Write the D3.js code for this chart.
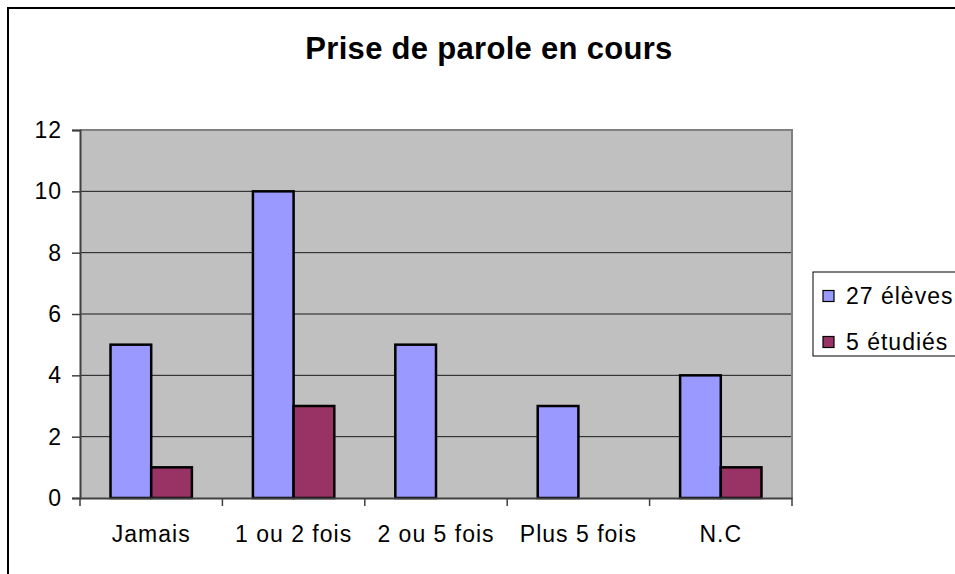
<!DOCTYPE html>
<html><head><meta charset="utf-8">
<script src="https://cdn.jsdelivr.net/npm/d3@7"></script>
<style>
html,body{margin:0;padding:0;background:#fff;overflow:hidden;}
text{font-family:"Liberation Sans",Arial,sans-serif;}
</style></head>
<body>
<svg id="c" width="955" height="574"></svg>
<script>
const title = "Prise de parole en cours";
const categories = ["Jamais", "1 ou 2 fois", "2 ou 5 fois", "Plus 5 fois", "N.C"];
const seriesNames = ["27 élèves", "5 étudiés"];
const eleves = [5, 10, 5, 3, 4];
const etudies = [1, 3, 0, 0, 1];
const yTicks = [0, 2, 4, 6, 8, 10, 12];
const colors = ["#9999FF", "#993366"];

const svg = d3.select("#c");
const L = 80, R = 792, T = 130, B = 498;

// outer chart border
svg.append("rect").attr("x", 8).attr("y", 8).attr("width", 960).attr("height", 580)
  .attr("fill", "#fff").attr("stroke", "#000").attr("stroke-width", 2);

// title
svg.append("text").attr("x", 489).attr("y", 59).attr("text-anchor", "middle")
  .attr("font-size", 31).attr("font-weight", "bold").attr("letter-spacing", 0.3)
  .text(title);

const x0 = d3.scaleBand().domain(categories).range([L, R]).paddingInner(0).paddingOuter(0);
const bw = x0.bandwidth() / 3.5;
const y = d3.scaleLinear().domain([0, 12]).range([B, T]);

// plot background
svg.append("rect").attr("x", L).attr("y", T).attr("width", R - L).attr("height", B - T)
  .attr("fill", "#C0C0C0");

// gridlines
svg.append("g").selectAll("line").data(yTicks.filter(v => v > 0 && v < 12)).join("line")
  .attr("x1", L).attr("x2", R).attr("y1", d => y(d)).attr("y2", d => y(d))
  .attr("stroke", "#1a1a1a").attr("stroke-width", 1);

// plot border top/right
svg.append("path").attr("d", `M${L},${T}H${R}V${B}`).attr("fill", "none")
  .attr("stroke", "#808080").attr("stroke-width", 2);

// bars
const data = categories.map((c, i) => ({c, vals: [eleves[i], etudies[i]]}));
const g = svg.append("g");
data.forEach(d => {
  d.vals.forEach((v, s) => {
    if (v <= 0) return;
    g.append("rect")
      .attr("x", x0(d.c) + bw * 0.75 + s * bw)
      .attr("y", y(v))
      .attr("width", bw)
      .attr("height", y(0) - y(v))
      .attr("fill", colors[s]).attr("stroke", "#000").attr("stroke-width", 2.5);
  });
});

// y axis
const yAxis = d3.axisLeft(y).tickValues(yTicks).tickSize(8).tickPadding(10).tickFormat(d3.format("d"));
const ya = svg.append("g").attr("transform", `translate(${L},0)`).call(yAxis);
ya.select(".domain").attr("stroke", "#404040").attr("stroke-width", 2);
ya.selectAll(".tick line").attr("stroke", "#404040").attr("stroke-width", 1.5);
ya.selectAll(".tick text").attr("font-size", 23).attr("letter-spacing", 1).attr("fill", "#000")
  .style("font-family", '"Liberation Sans",Arial,sans-serif');

// x axis
const xAxis = d3.axisBottom(x0).tickSize(0).tickPadding(28);
const xa = svg.append("g").attr("transform", `translate(0,${B})`).call(xAxis);
xa.select(".domain").attr("stroke", "#404040").attr("stroke-width", 2);
xa.selectAll(".tick text").attr("font-size", 23).attr("letter-spacing", 1).attr("fill", "#000")
  .style("font-family", '"Liberation Sans",Arial,sans-serif');
// category boundary ticks
const bounds = categories.map(c => x0(c)).concat([R]);
svg.append("g").selectAll("line").data(bounds).join("line")
  .attr("x1", d => d).attr("x2", d => d).attr("y1", B).attr("y2", B + 8)
  .attr("stroke", "#404040").attr("stroke-width", 1.5);

// legend
const lg = svg.append("g");
lg.append("rect").attr("x", 813).attr("y", 272).attr("width", 160).attr("height", 84)
  .attr("fill", "#fff").attr("stroke", "#000").attr("stroke-width", 1);
seriesNames.forEach((n, i) => {
  const cy = 296 + i * 46;
  lg.append("rect").attr("x", 823).attr("y", cy - 5.5).attr("width", 11).attr("height", 11)
    .attr("fill", colors[i]).attr("stroke", "#000").attr("stroke-width", 1.2);
  lg.append("text").attr("x", 846).attr("y", cy + 8).attr("font-size", 23).attr("letter-spacing", 1)
    .text(n);
});
</script>
</body></html>
